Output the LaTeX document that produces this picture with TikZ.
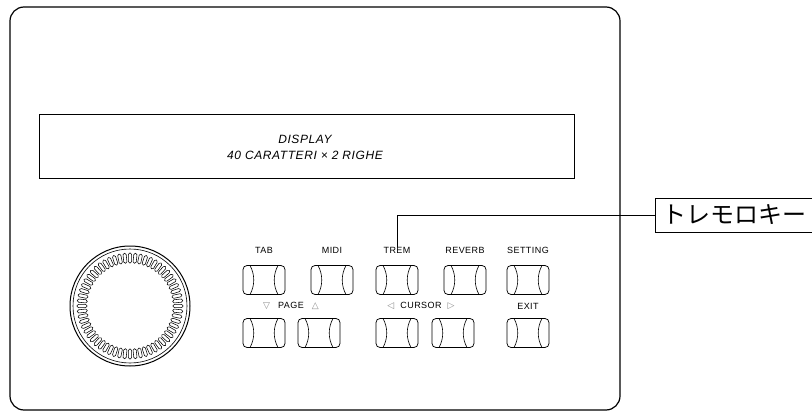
\documentclass[tikz,border=0pt]{standalone}
\usepackage{fontspec}
\setmainfont{Liberation Sans}
\newfontfamily\jpfont{Noto Sans CJK JP}
\newfontfamily\symfont{DejaVu Sans}
\usetikzlibrary{positioning}

\tikzset{
  key/.style={draw, line width=0.75pt, rounded corners=4pt, minimum width=42pt,
    minimum height=29pt, inner sep=0pt,
    path picture={
      \draw[line width=0.6pt, sharp corners]
        ([xshift=7pt]path picture bounding box.north west)
          .. controls +(5pt,-9pt) and +(5pt,9pt) ..
        ([xshift=7pt]path picture bounding box.south west)
        ([xshift=-7pt]path picture bounding box.north east)
          .. controls +(-5pt,-9pt) and +(-5pt,9pt) ..
        ([xshift=-7pt]path picture bounding box.south east);
    }},
  keylabel/.style={font=\fontsize{9}{10}\selectfont\addfontfeature{LetterSpace=5}, inner sep=1pt},
}
\newcommand{\arr}[1]{{\symfont\color{black!45}#1}}

\begin{document}
\begin{tikzpicture}[x=1pt, y=-1pt]
  \useasboundingbox (0,0) rectangle (812,412);

  % panel
  \draw[line width=1.2pt, rounded corners=14pt] (10,7) rectangle (620,410);

  % display
  \draw[line width=1pt] (39,115) rectangle (574,178);
  \node[font=\itshape\fontsize{12}{16}\selectfont\addfontfeature{LetterSpace=5},
        align=center] (disp) at (305,147)
    {DISPLAY\\40 CARATTERI × 2 RIGHE};

  % dial
  \draw[line width=1pt] (130,306) circle (60);
  \draw[line width=0.6pt] (130,306) circle (57);
  \foreach \a in {0,6,...,354}
    \draw[line width=0.55pt, rounded corners=1.4pt, shift={(130,306)}, rotate=\a]
      (43,-1.6) rectangle (53,1.6);

  % upper keys
  \node[key] (b1) at (264,280) {};
  \node[key] (b2) at (332,280) {};
  \node[key] (b3) at (397,280) {};
  \node[key] (b4) at (465,280) {};
  \node[key] (b5) at (528,280) {};

  \node[keylabel, above=10pt of b1] (l1) {TAB};
  \node[keylabel, above=10pt of b2] (l2) {MIDI};
  \node[keylabel, above=10pt of b3] (l3) {TREM};
  \node[keylabel, above=10pt of b4] (l4) {REVERB};
  \node[keylabel, above=10pt of b5] (l5) {SETTING};

  % lower keys
  \node[key] (c1) at (264,333) {};
  \node[key] (c2) at (319,333) {};
  \node[key] (c3) at (397,333) {};
  \node[key] (c4) at (453,333) {};
  \node[key] (c5) at (528,333) {};

  \node[keylabel] (m1) at (291,306) {\arr{▽}\hspace{8pt}PAGE\hspace{8pt}\arr{△}};
  \node[keylabel] (m2) at (421,306) {\arr{◁}\hspace{6pt}CURSOR\hspace{6pt}\arr{▷}};
  \node[keylabel, above=7pt of c5] (m3) {EXIT};

  % callout
  \node[draw, line width=0.8pt, anchor=west, inner sep=7pt,
        font=\jpfont\fontsize{24}{26}\selectfont] (tremkey) at (655,215) {トレモロキー};
  \draw[line width=0.8pt] (l3.north) |- (tremkey.west);
\end{tikzpicture}
\end{document}
